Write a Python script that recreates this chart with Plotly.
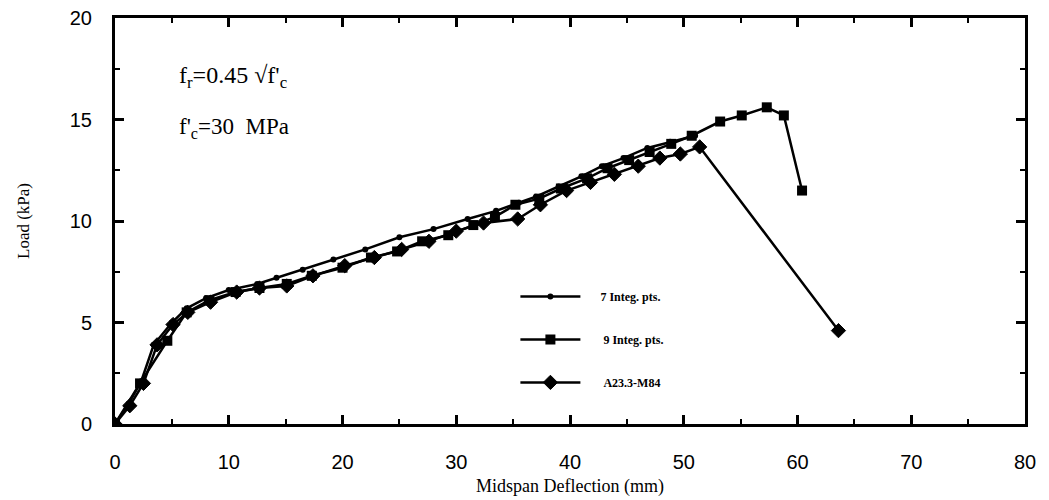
import plotly.graph_objects as go

# 7 integration points
i7_x = [0, 1.2, 2.3, 3.4, 5.0, 6.3, 8.0, 10.0, 12.5, 14.2, 16.5, 19.2, 22.0, 25.0, 28.0,
        31.0, 33.5, 35.5, 37.0, 39.0, 41.0, 42.8, 44.7, 46.8, 48.8, 51.0]
i7_y = [0, 1.0, 2.1, 3.9, 5.0, 5.7, 6.2, 6.6, 6.9, 7.2, 7.6, 8.1, 8.6, 9.2, 9.6,
        10.1, 10.5, 10.9, 11.2, 11.7, 12.2, 12.7, 13.1, 13.6, 13.9, 14.2]

# 9 integration points
i9_x = [0, 2.2, 4.6, 6.3, 8.3, 10.6, 12.7, 15.1, 17.3, 20.0, 22.5, 24.8, 27.0, 29.3, 31.5,
        33.4, 35.2, 37.3, 39.2, 41.5, 43.3, 45.2, 47.0, 48.9, 50.7, 53.2, 55.1, 57.3, 58.8, 60.4]
i9_y = [0, 2.0, 4.1, 5.5, 6.1, 6.5, 6.7, 6.9, 7.3, 7.7, 8.2, 8.5, 9.0, 9.3, 9.8,
        10.2, 10.8, 11.1, 11.6, 12.1, 12.6, 13.0, 13.4, 13.8, 14.2, 14.9, 15.2, 15.6, 15.2, 11.5]

# A23.3-M84
a23_x = [0, 1.3, 2.5, 3.7, 5.1, 6.4, 8.4, 10.7, 12.7, 15.1, 17.4, 20.2, 22.8, 25.2, 27.6,
         30.0, 32.4, 35.4, 37.4, 39.7, 41.8, 43.9, 46.0, 47.9, 49.7, 51.4, 63.6]
a23_y = [0, 0.9, 2.0, 3.9, 4.9, 5.5, 6.0, 6.5, 6.7, 6.8, 7.3, 7.8, 8.2, 8.6, 9.0,
         9.5, 9.9, 10.1, 10.8, 11.5, 11.9, 12.3, 12.7, 13.1, 13.3, 13.65, 4.6]

x_ticks = [0, 10, 20, 30, 40, 50, 60, 70, 80]
y_ticks = [0, 5, 10, 15, 20]

SERIF = "Liberation Serif, Times New Roman, serif"
SANS = "Liberation Sans, Arial, sans-serif"

fig = go.Figure()
fig.add_trace(go.Scatter(x=i7_x, y=i7_y, mode="lines+markers",
                         name="\u00a0\u00a0\u00a0\u00a0\u00a07 Integ. pts.",
                         legendgroup="a",
                         line=dict(color="black", width=2.5),
                         marker=dict(symbol="circle", size=6, color="black")))
fig.add_trace(go.Scatter(x=i9_x, y=i9_y, mode="lines+markers",
                         name="\u00a0\u00a0\u00a0\u00a0\u00a0\u00a09 Integ. pts.",
                         legendgroup="b",
                         line=dict(color="black", width=2.5),
                         marker=dict(symbol="square", size=10, color="black")))
fig.add_trace(go.Scatter(x=a23_x, y=a23_y, mode="lines+markers",
                         name="\u00a0\u00a0\u00a0\u00a0\u00a0\u00a0A23.3-M84",
                         legendgroup="c",
                         line=dict(color="black", width=2.5),
                         marker=dict(symbol="diamond", size=11, color="black",
                                     line=dict(color="black", width=1))))

fig.add_annotation(xref="paper", yref="paper", x=0.068, y=0.855, xanchor="left", yanchor="middle",
                   showarrow=False,
                   text="f<sub>r</sub>=0.45 √f'<sub>c</sub>",
                   font=dict(family=SERIF, size=24, color="black"))
fig.add_annotation(xref="paper", yref="paper", x=0.068, y=0.73, xanchor="left", yanchor="middle",
                   showarrow=False,
                   text="f'<sub>c</sub>=30  MPa",
                   font=dict(family=SERIF, size=23, color="black"))

axis_common = dict(showline=True, linecolor="black", linewidth=3, mirror="ticks",
                   ticks="inside", ticklen=9, tickwidth=2.5, tickcolor="black",
                   showgrid=False, zeroline=False, automargin=False,
                   tickfont=dict(family=SANS, size=20, color="black"))

fig.update_xaxes(range=[0, 80], tickvals=x_ticks, ticktext=[str(v) for v in x_ticks],
                 ticklabelstandoff=18,
                 minor=dict(ticks="inside", ticklen=5, tickwidth=2, tickcolor="black", dtick=5),
                 title=dict(text="Midspan Deflection (mm)", standoff=8,
                            font=dict(family=SERIF, size=18, color="black")),
                 **axis_common)
fig.update_yaxes(range=[0, 20], tickvals=y_ticks, ticktext=[str(v) for v in y_ticks],
                 ticklabelstandoff=16,
                 minor=dict(ticks="inside", ticklen=5, tickwidth=2, tickcolor="black", dtick=2.5),
                 title=dict(text="Load (kPa)", standoff=36,
                            font=dict(family=SERIF, size=17, color="black")),
                 **axis_common)

fig.update_layout(
    width=1049, height=500,
    margin=dict(l=115, r=24, t=18, b=76),
    plot_bgcolor="white", paper_bgcolor="white",
    showlegend=True,
    legend=dict(x=0.44, y=0.35, xanchor="left", yanchor="top",
                bgcolor="rgba(0,0,0,0)", tracegroupgap=24, itemwidth=60,
                font=dict(family=SERIF, size=12, color="black", weight="bold")),
)

fig.write_html("out.html")
